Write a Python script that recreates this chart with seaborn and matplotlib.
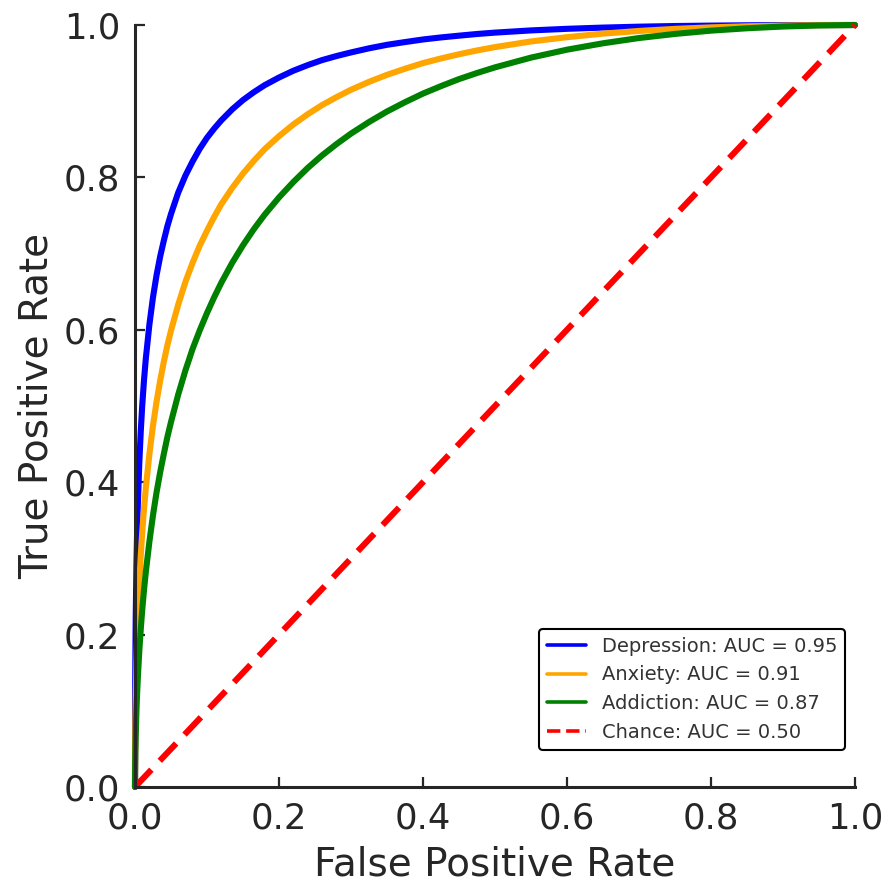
import matplotlib
matplotlib.use("Agg")
import matplotlib.pyplot as plt
import seaborn as sns
import pandas as pd

fpr = [0.0, 0.0002, 0.0005, 0.001, 0.002, 0.003, 0.004, 0.006, 0.008, 0.01,
       0.0125, 0.015, 0.02, 0.025, 0.03, 0.035, 0.04, 0.045, 0.05, 0.06,
       0.07, 0.08, 0.09, 0.10, 0.11, 0.12, 0.135, 0.15, 0.165, 0.18,
       0.20, 0.22, 0.24, 0.26, 0.28, 0.30, 0.325, 0.35, 0.375, 0.40,
       0.425, 0.45, 0.475, 0.50, 0.55, 0.60, 0.65, 0.70, 0.75, 0.80,
       0.85, 0.90, 0.95, 1.0]
tpr_depression = [0.0, 0.112, 0.167, 0.222, 0.2905, 0.337, 0.3722, 0.426, 0.4669, 0.500,
                  0.5339, 0.562, 0.607, 0.6428, 0.672, 0.6964, 0.717, 0.736, 0.752, 0.780,
                  0.8023, 0.821, 0.8377, 0.852, 0.8641, 0.875, 0.8893, 0.9015, 0.9118, 0.921,
                  0.9311, 0.940, 0.9474, 0.954, 0.9593, 0.964, 0.9694, 0.974, 0.9776, 0.981,
                  0.9837, 0.986, 0.9882, 0.990, 0.9929, 0.995, 0.9966, 0.9978, 0.99865, 0.9992,
                  0.99961, 0.99985, 0.99996, 1.0]
tpr_anxiety = [0.0, 0.050, 0.0815, 0.116, 0.1631, 0.197, 0.2248, 0.269, 0.3040, 0.334,
               0.3650, 0.392, 0.437, 0.4745, 0.506, 0.5335, 0.558, 0.5797, 0.599, 0.633,
               0.6628, 0.688, 0.7106, 0.730, 0.7483, 0.765, 0.7861, 0.805, 0.8217, 0.837,
               0.8541, 0.8695, 0.8830, 0.895, 0.9054, 0.915, 0.9254, 0.9346, 0.9426, 0.950,
               0.9561, 0.9616, 0.9666, 0.971, 0.9784, 0.984, 0.9887, 0.9922, 0.9949, 0.9969,
               0.99832, 0.99926, 0.9998, 1.0]
tpr_addiction = [0.0, 0.0258, 0.0448, 0.067, 0.0994, 0.124, 0.1448, 0.179, 0.2072, 0.232,
                 0.2585, 0.282, 0.322, 0.3568, 0.387, 0.4133, 0.437, 0.4594, 0.479, 0.515,
                 0.5466, 0.575, 0.5995, 0.622, 0.6428, 0.662, 0.6879, 0.711, 0.7320, 0.751,
                 0.7737, 0.794, 0.8125, 0.829, 0.8438, 0.8575, 0.8727, 0.8865, 0.8987, 0.910,
                 0.9198, 0.929, 0.9370, 0.9444, 0.9572, 0.9676, 0.9760, 0.9829, 0.9883, 0.9926,
                 0.99572, 0.998, 0.9994, 1.0]
chance_x = [0.0, 1.0]
chance_y = [0.0, 1.0]

labels = ["Depression: AUC = 0.95", "Anxiety: AUC = 0.91",
          "Addiction: AUC = 0.87", "Chance: AUC = 0.50"]
colors = ["blue", "orange", "green", "red"]

sns.set_style("ticks")
plt.rcParams['font.family'] = ['DejaVu Sans']

fig = plt.figure(figsize=(8.92, 8.91), dpi=100)
ax = fig.add_axes([135/892, 1 - 787/891, 720/892, 762/891])

series = [tpr_depression, tpr_anxiety, tpr_addiction]
for tpr, lab, col in zip(series, labels[:3], colors[:3]):
    df = pd.DataFrame({"FPR": fpr, "TPR": tpr})
    sns.lineplot(data=df, x="FPR", y="TPR", ax=ax, color=col, linewidth=4.4,
                 label=lab, clip_on=False, sort=False)
    ax.lines[-1].set_solid_joinstyle("round")

dfc = pd.DataFrame({"FPR": chance_x, "TPR": chance_y})
sns.lineplot(data=dfc, x="FPR", y="TPR", ax=ax, color=colors[3], linewidth=4.4,
             label=labels[3], clip_on=False, sort=False)
ax.lines[-1].set_linestyle((0, (3.9, 2.0)))

ax.set_xlim(0, 1)
ax.set_ylim(0, 1)
ax.set_xticks([0, 0.2, 0.4, 0.6, 0.8, 1.0])
ax.set_yticks([0, 0.2, 0.4, 0.6, 0.8, 1.0])
ax.set_xticklabels(["0.0", "0.2", "0.4", "0.6", "0.8", "1.0"])
ax.set_yticklabels(["0.0", "0.2", "0.4", "0.6", "0.8", "1.0"])
ax.tick_params(direction="in", length=7, width=1.6, labelsize=25.5, pad=10.5,
               colors="#262626")
ax.set_xlabel("False Positive Rate", fontsize=28, labelpad=7, color="#262626")
ax.set_ylabel("True Positive Rate", fontsize=28, labelpad=6, color="#262626")
sns.despine(ax=ax)
for sp in ["left", "bottom"]:
    ax.spines[sp].set_linewidth(2.2)
    ax.spines[sp].set_color("#262626")

leg = ax.legend(loc="lower right", bbox_to_anchor=(0.986, 0.049), borderaxespad=0,
                fontsize=14, frameon=True, fancybox=True, framealpha=1,
                edgecolor="black", labelcolor="#333333")
leg.get_frame().set_linewidth(1.5)
for h in leg.legend_handles:
    h.set_linewidth(2.6)
leg.legend_handles[-1].set_linestyle("--")

fig.savefig("out.png", dpi=100)
